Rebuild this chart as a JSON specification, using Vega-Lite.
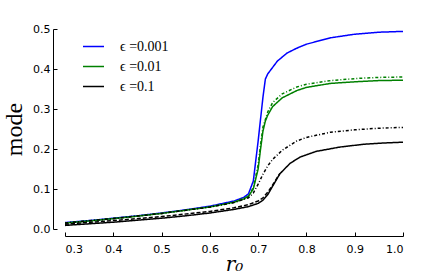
{
  "$schema": "https://vega.github.io/schema/vega-lite/v6.json",
  "width": 338,
  "height": 200,
  "autosize": {"type": "none"},
  "padding": {"left": 65, "top": 29, "right": 33, "bottom": 48},
  "background": "white",
  "config": {"view": {"stroke": null}},
  "datasets": {
    "curves": [
      {"series": "b", "eps": "ϵ =0.001", "style": "solid", "x": 0.30, "y": 0.016},
      {"series": "b", "eps": "ϵ =0.001", "style": "solid", "x": 0.35, "y": 0.021},
      {"series": "b", "eps": "ϵ =0.001", "style": "solid", "x": 0.40, "y": 0.027},
      {"series": "b", "eps": "ϵ =0.001", "style": "solid", "x": 0.45, "y": 0.033},
      {"series": "b", "eps": "ϵ =0.001", "style": "solid", "x": 0.50, "y": 0.040},
      {"series": "b", "eps": "ϵ =0.001", "style": "solid", "x": 0.55, "y": 0.048},
      {"series": "b", "eps": "ϵ =0.001", "style": "solid", "x": 0.60, "y": 0.057},
      {"series": "b", "eps": "ϵ =0.001", "style": "solid", "x": 0.65, "y": 0.070},
      {"series": "b", "eps": "ϵ =0.001", "style": "solid", "x": 0.67, "y": 0.079},
      {"series": "b", "eps": "ϵ =0.001", "style": "solid", "x": 0.68, "y": 0.088},
      {"series": "b", "eps": "ϵ =0.001", "style": "solid", "x": 0.69, "y": 0.12},
      {"series": "b", "eps": "ϵ =0.001", "style": "solid", "x": 0.70, "y": 0.22},
      {"series": "b", "eps": "ϵ =0.001", "style": "solid", "x": 0.71, "y": 0.33},
      {"series": "b", "eps": "ϵ =0.001", "style": "solid", "x": 0.715, "y": 0.375},
      {"series": "b", "eps": "ϵ =0.001", "style": "solid", "x": 0.72, "y": 0.388},
      {"series": "b", "eps": "ϵ =0.001", "style": "solid", "x": 0.74, "y": 0.42},
      {"series": "b", "eps": "ϵ =0.001", "style": "solid", "x": 0.76, "y": 0.44},
      {"series": "b", "eps": "ϵ =0.001", "style": "solid", "x": 0.78, "y": 0.452},
      {"series": "b", "eps": "ϵ =0.001", "style": "solid", "x": 0.80, "y": 0.462},
      {"series": "b", "eps": "ϵ =0.001", "style": "solid", "x": 0.85, "y": 0.478},
      {"series": "b", "eps": "ϵ =0.001", "style": "solid", "x": 0.90, "y": 0.487},
      {"series": "b", "eps": "ϵ =0.001", "style": "solid", "x": 0.95, "y": 0.492},
      {"series": "b", "eps": "ϵ =0.001", "style": "solid", "x": 1.00, "y": 0.494},

      {"series": "g", "eps": "ϵ =0.01", "style": "solid", "x": 0.30, "y": 0.015},
      {"series": "g", "eps": "ϵ =0.01", "style": "solid", "x": 0.35, "y": 0.020},
      {"series": "g", "eps": "ϵ =0.01", "style": "solid", "x": 0.40, "y": 0.026},
      {"series": "g", "eps": "ϵ =0.01", "style": "solid", "x": 0.45, "y": 0.032},
      {"series": "g", "eps": "ϵ =0.01", "style": "solid", "x": 0.50, "y": 0.039},
      {"series": "g", "eps": "ϵ =0.01", "style": "solid", "x": 0.55, "y": 0.047},
      {"series": "g", "eps": "ϵ =0.01", "style": "solid", "x": 0.60, "y": 0.055},
      {"series": "g", "eps": "ϵ =0.01", "style": "solid", "x": 0.65, "y": 0.067},
      {"series": "g", "eps": "ϵ =0.01", "style": "solid", "x": 0.67, "y": 0.075},
      {"series": "g", "eps": "ϵ =0.01", "style": "solid", "x": 0.68, "y": 0.082},
      {"series": "g", "eps": "ϵ =0.01", "style": "solid", "x": 0.69, "y": 0.10},
      {"series": "g", "eps": "ϵ =0.01", "style": "solid", "x": 0.70, "y": 0.15},
      {"series": "g", "eps": "ϵ =0.01", "style": "solid", "x": 0.705, "y": 0.20},
      {"series": "g", "eps": "ϵ =0.01", "style": "solid", "x": 0.71, "y": 0.245},
      {"series": "g", "eps": "ϵ =0.01", "style": "solid", "x": 0.715, "y": 0.27},
      {"series": "g", "eps": "ϵ =0.01", "style": "solid", "x": 0.72, "y": 0.285},
      {"series": "g", "eps": "ϵ =0.01", "style": "solid", "x": 0.73, "y": 0.306},
      {"series": "g", "eps": "ϵ =0.01", "style": "solid", "x": 0.75, "y": 0.328},
      {"series": "g", "eps": "ϵ =0.01", "style": "solid", "x": 0.78, "y": 0.346},
      {"series": "g", "eps": "ϵ =0.01", "style": "solid", "x": 0.80, "y": 0.354},
      {"series": "g", "eps": "ϵ =0.01", "style": "solid", "x": 0.85, "y": 0.364},
      {"series": "g", "eps": "ϵ =0.01", "style": "solid", "x": 0.90, "y": 0.368},
      {"series": "g", "eps": "ϵ =0.01", "style": "solid", "x": 0.95, "y": 0.371},
      {"series": "g", "eps": "ϵ =0.01", "style": "solid", "x": 1.00, "y": 0.372},

      {"series": "gd", "eps": "ϵ =0.01", "style": "dashdot", "x": 0.30, "y": 0.015},
      {"series": "gd", "eps": "ϵ =0.01", "style": "dashdot", "x": 0.40, "y": 0.026},
      {"series": "gd", "eps": "ϵ =0.01", "style": "dashdot", "x": 0.50, "y": 0.039},
      {"series": "gd", "eps": "ϵ =0.01", "style": "dashdot", "x": 0.60, "y": 0.055},
      {"series": "gd", "eps": "ϵ =0.01", "style": "dashdot", "x": 0.65, "y": 0.067},
      {"series": "gd", "eps": "ϵ =0.01", "style": "dashdot", "x": 0.68, "y": 0.082},
      {"series": "gd", "eps": "ϵ =0.01", "style": "dashdot", "x": 0.69, "y": 0.104},
      {"series": "gd", "eps": "ϵ =0.01", "style": "dashdot", "x": 0.70, "y": 0.16},
      {"series": "gd", "eps": "ϵ =0.01", "style": "dashdot", "x": 0.705, "y": 0.21},
      {"series": "gd", "eps": "ϵ =0.01", "style": "dashdot", "x": 0.71, "y": 0.255},
      {"series": "gd", "eps": "ϵ =0.01", "style": "dashdot", "x": 0.72, "y": 0.293},
      {"series": "gd", "eps": "ϵ =0.01", "style": "dashdot", "x": 0.73, "y": 0.316},
      {"series": "gd", "eps": "ϵ =0.01", "style": "dashdot", "x": 0.75, "y": 0.338},
      {"series": "gd", "eps": "ϵ =0.01", "style": "dashdot", "x": 0.78, "y": 0.355},
      {"series": "gd", "eps": "ϵ =0.01", "style": "dashdot", "x": 0.80, "y": 0.362},
      {"series": "gd", "eps": "ϵ =0.01", "style": "dashdot", "x": 0.85, "y": 0.371},
      {"series": "gd", "eps": "ϵ =0.01", "style": "dashdot", "x": 0.90, "y": 0.376},
      {"series": "gd", "eps": "ϵ =0.01", "style": "dashdot", "x": 0.95, "y": 0.379},
      {"series": "gd", "eps": "ϵ =0.01", "style": "dashdot", "x": 1.00, "y": 0.38},

      {"series": "k", "eps": "ϵ =0.1", "style": "solid", "x": 0.30, "y": 0.009},
      {"series": "k", "eps": "ϵ =0.1", "style": "solid", "x": 0.35, "y": 0.013},
      {"series": "k", "eps": "ϵ =0.1", "style": "solid", "x": 0.40, "y": 0.017},
      {"series": "k", "eps": "ϵ =0.1", "style": "solid", "x": 0.45, "y": 0.022},
      {"series": "k", "eps": "ϵ =0.1", "style": "solid", "x": 0.50, "y": 0.027},
      {"series": "k", "eps": "ϵ =0.1", "style": "solid", "x": 0.55, "y": 0.033},
      {"series": "k", "eps": "ϵ =0.1", "style": "solid", "x": 0.60, "y": 0.040},
      {"series": "k", "eps": "ϵ =0.1", "style": "solid", "x": 0.65, "y": 0.049},
      {"series": "k", "eps": "ϵ =0.1", "style": "solid", "x": 0.68, "y": 0.056},
      {"series": "k", "eps": "ϵ =0.1", "style": "solid", "x": 0.70, "y": 0.064},
      {"series": "k", "eps": "ϵ =0.1", "style": "solid", "x": 0.71, "y": 0.072},
      {"series": "k", "eps": "ϵ =0.1", "style": "solid", "x": 0.72, "y": 0.086},
      {"series": "k", "eps": "ϵ =0.1", "style": "solid", "x": 0.73, "y": 0.107},
      {"series": "k", "eps": "ϵ =0.1", "style": "solid", "x": 0.745, "y": 0.138},
      {"series": "k", "eps": "ϵ =0.1", "style": "solid", "x": 0.766, "y": 0.164},
      {"series": "k", "eps": "ϵ =0.1", "style": "solid", "x": 0.787, "y": 0.18},
      {"series": "k", "eps": "ϵ =0.1", "style": "solid", "x": 0.82, "y": 0.194},
      {"series": "k", "eps": "ϵ =0.1", "style": "solid", "x": 0.87, "y": 0.205},
      {"series": "k", "eps": "ϵ =0.1", "style": "solid", "x": 0.92, "y": 0.212},
      {"series": "k", "eps": "ϵ =0.1", "style": "solid", "x": 0.96, "y": 0.215},
      {"series": "k", "eps": "ϵ =0.1", "style": "solid", "x": 1.00, "y": 0.217},

      {"series": "kd", "eps": "ϵ =0.1", "style": "dashed", "x": 0.30, "y": 0.012},
      {"series": "kd", "eps": "ϵ =0.1", "style": "dashed", "x": 0.40, "y": 0.021},
      {"series": "kd", "eps": "ϵ =0.1", "style": "dashed", "x": 0.50, "y": 0.031},
      {"series": "kd", "eps": "ϵ =0.1", "style": "dashed", "x": 0.60, "y": 0.044},
      {"series": "kd", "eps": "ϵ =0.1", "style": "dashed", "x": 0.65, "y": 0.053},
      {"series": "kd", "eps": "ϵ =0.1", "style": "dashed", "x": 0.68, "y": 0.061},
      {"series": "kd", "eps": "ϵ =0.1", "style": "dashed", "x": 0.70, "y": 0.07},
      {"series": "kd", "eps": "ϵ =0.1", "style": "dashed", "x": 0.71, "y": 0.078},
      {"series": "kd", "eps": "ϵ =0.1", "style": "dashed", "x": 0.72, "y": 0.092},
      {"series": "kd", "eps": "ϵ =0.1", "style": "dashed", "x": 0.73, "y": 0.11},
      {"series": "kd", "eps": "ϵ =0.1", "style": "dashed", "x": 0.745, "y": 0.139},

      {"series": "kdd", "eps": "ϵ =0.1", "style": "dashdot", "x": 0.30, "y": 0.015},
      {"series": "kdd", "eps": "ϵ =0.1", "style": "dashdot", "x": 0.40, "y": 0.026},
      {"series": "kdd", "eps": "ϵ =0.1", "style": "dashdot", "x": 0.50, "y": 0.039},
      {"series": "kdd", "eps": "ϵ =0.1", "style": "dashdot", "x": 0.60, "y": 0.055},
      {"series": "kdd", "eps": "ϵ =0.1", "style": "dashdot", "x": 0.65, "y": 0.066},
      {"series": "kdd", "eps": "ϵ =0.1", "style": "dashdot", "x": 0.68, "y": 0.078},
      {"series": "kdd", "eps": "ϵ =0.1", "style": "dashdot", "x": 0.69, "y": 0.09},
      {"series": "kdd", "eps": "ϵ =0.1", "style": "dashdot", "x": 0.70, "y": 0.112},
      {"series": "kdd", "eps": "ϵ =0.1", "style": "dashdot", "x": 0.71, "y": 0.137},
      {"series": "kdd", "eps": "ϵ =0.1", "style": "dashdot", "x": 0.72, "y": 0.158},
      {"series": "kdd", "eps": "ϵ =0.1", "style": "dashdot", "x": 0.73, "y": 0.174},
      {"series": "kdd", "eps": "ϵ =0.1", "style": "dashdot", "x": 0.75, "y": 0.197},
      {"series": "kdd", "eps": "ϵ =0.1", "style": "dashdot", "x": 0.78, "y": 0.22},
      {"series": "kdd", "eps": "ϵ =0.1", "style": "dashdot", "x": 0.80, "y": 0.229},
      {"series": "kdd", "eps": "ϵ =0.1", "style": "dashdot", "x": 0.85, "y": 0.242},
      {"series": "kdd", "eps": "ϵ =0.1", "style": "dashdot", "x": 0.90, "y": 0.248},
      {"series": "kdd", "eps": "ϵ =0.1", "style": "dashdot", "x": 0.95, "y": 0.252},
      {"series": "kdd", "eps": "ϵ =0.1", "style": "dashdot", "x": 1.00, "y": 0.254}
    ]
  },
  "data": {"name": "curves"},
  "mark": {"type": "line", "strokeWidth": 1.5, "clip": true},
  "encoding": {
    "x": {
      "field": "x", "type": "quantitative",
      "scale": {"domain": [0.3, 1.0], "nice": false, "zero": false},
      "axis": {
        "title": "r₀", "titleFont": "DejaVu Serif", "titleFontStyle": "italic", "titleFontWeight": "normal",
        "titleFontSize": 20, "titleColor": "black", "titlePadding": 0,
        "values": [0.3, 0.4, 0.5, 0.6, 0.7, 0.8, 0.9, 1.0], "format": ".1f",
        "labelFont": "DejaVu Sans", "labelFontSize": 11, "labelColor": "black", "labelPadding": 11,
        "tickSize": -4, "tickColor": "black", "domainColor": "black", "domainWidth": 1,
        "grid": false, "offset": 7
      }
    },
    "y": {
      "field": "y", "type": "quantitative",
      "scale": {"domain": [0.0, 0.5], "nice": false},
      "axis": {
        "title": "mode", "titleFont": "Liberation Serif", "titleFontWeight": "normal",
        "titleFontSize": 24, "titleColor": "black", "titlePadding": 6,
        "values": [0.0, 0.1, 0.2, 0.3, 0.4, 0.5], "format": ".1f",
        "labelFont": "DejaVu Sans", "labelFontSize": 11, "labelColor": "black", "labelPadding": 7,
        "tickSize": -4, "tickColor": "black", "domainColor": "black", "domainWidth": 1,
        "grid": false, "offset": 12
      }
    },
    "color": {
      "field": "eps", "type": "nominal",
      "scale": {"domain": ["ϵ =0.001", "ϵ =0.01", "ϵ =0.1"], "range": ["#0000ff", "#008000", "#000000"]},
      "legend": {
        "title": null, "orient": "none", "legendX": 17, "legendY": 6,
        "symbolType": "stroke", "symbolSize": 441, "symbolStrokeWidth": 1.5,
        "labelFont": "Liberation Serif", "labelFontSize": 14, "labelColor": "black",
        "labelOffset": 15, "rowPadding": 1, "padding": 0
      }
    },
    "strokeDash": {
      "field": "style", "type": "nominal",
      "scale": {"domain": ["solid", "dashed", "dashdot"], "range": [[1, 0], [4, 2], [3, 2, 1, 2]]},
      "legend": null
    },
    "detail": {"field": "series"},
    "order": {"field": "x"}
  }
}
